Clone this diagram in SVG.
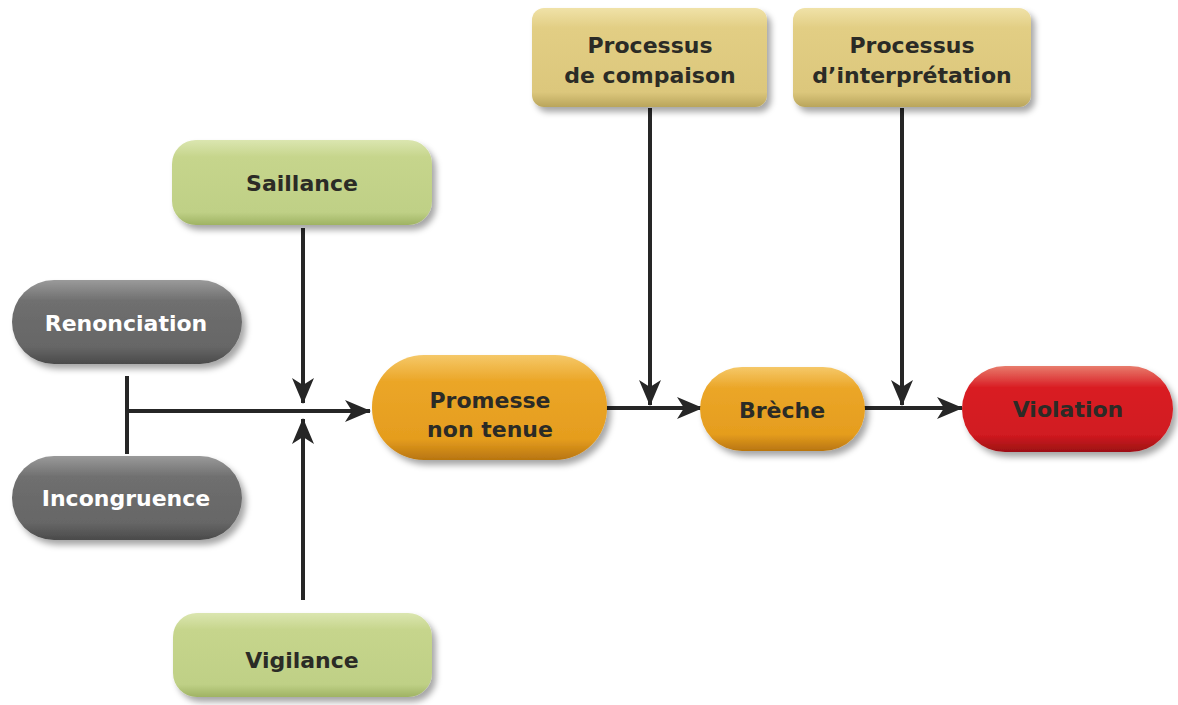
<svg xmlns="http://www.w3.org/2000/svg" width="1178" height="705" viewBox="0 0 1178 705">
<defs>
<style>
.t{font-family:"DejaVu Sans","Verdana",sans-serif;font-weight:bold;font-size:22px;text-anchor:middle;fill:#2b2b26}
.w{fill:#ffffff}
.c{fill:none;stroke:#262626;stroke-width:4}
</style>
<filter id="sh" x="-10%" y="-20%" width="125%" height="150%">
<feDropShadow dx="4" dy="5" stdDeviation="3" flood-color="#000" flood-opacity="0.35"/>
</filter>
<linearGradient id="gGray" x1="0" y1="0" x2="0" y2="1">
<stop offset="0" stop-color="#9a9a9a"/><stop offset="0.25" stop-color="#6f6f6f"/><stop offset="0.8" stop-color="#666"/><stop offset="1" stop-color="#4a4a4a"/>
</linearGradient>
<linearGradient id="gGreen" x1="0" y1="0" x2="0" y2="1">
<stop offset="0" stop-color="#dbe6b0"/><stop offset="0.2" stop-color="#c6d58c"/><stop offset="0.85" stop-color="#bfd086"/><stop offset="1" stop-color="#9fb363"/>
</linearGradient>
<linearGradient id="gOrange" x1="0" y1="0" x2="0" y2="1">
<stop offset="0" stop-color="#f5c868"/><stop offset="0.25" stop-color="#eba628"/><stop offset="0.8" stop-color="#e59d1e"/><stop offset="1" stop-color="#b87510"/>
</linearGradient>
<linearGradient id="gRed" x1="0" y1="0" x2="0" y2="1">
<stop offset="0" stop-color="#e87c6c"/><stop offset="0.25" stop-color="#d91d24"/><stop offset="0.8" stop-color="#d11a20"/><stop offset="1" stop-color="#9c1014"/>
</linearGradient>
<linearGradient id="gTan" x1="0" y1="0" x2="0" y2="1">
<stop offset="0" stop-color="#f0e2a8"/><stop offset="0.2" stop-color="#e2ce84"/><stop offset="0.85" stop-color="#dcc77c"/><stop offset="1" stop-color="#b9a55c"/>
</linearGradient>
<marker id="ah" viewBox="0 0 26 22" refX="25" refY="11" markerWidth="26" markerHeight="22" markerUnits="userSpaceOnUse" orient="auto">
<path d="M0,0 L26,11 L0,22 L7,11 Z" fill="#262626"/>
</marker>
</defs>
<rect width="1178" height="705" fill="#ffffff"/>

<g id="connectors">
<line class="c" x1="127" y1="376" x2="127" y2="454"/>
<line class="c" x1="127" y1="411" x2="370" y2="411" marker-end="url(#ah)"/>
<line class="c" x1="303" y1="228" x2="303" y2="403" marker-end="url(#ah)"/>
<line class="c" x1="303" y1="600" x2="303" y2="419" marker-end="url(#ah)"/>
<line class="c" x1="606" y1="408" x2="702" y2="408" marker-end="url(#ah)"/>
<line class="c" x1="650" y1="108" x2="650" y2="405" marker-end="url(#ah)"/>
<line class="c" x1="864" y1="408" x2="962" y2="408" marker-end="url(#ah)"/>
<line class="c" x1="902" y1="108" x2="902" y2="405" marker-end="url(#ah)"/>
</g>

<g id="saillance">
<rect x="172" y="140" width="260" height="85" rx="24" fill="url(#gGreen)" filter="url(#sh)"/>
<text class="t" x="302" y="191">Saillance</text>
</g>
<g id="vigilance">
<rect x="173" y="613" width="259" height="84" rx="24" fill="url(#gGreen)" filter="url(#sh)"/>
<text class="t" x="302" y="668">Vigilance</text>
</g>
<g id="renonciation">
<rect x="12" y="280" width="230" height="84" rx="42" fill="url(#gGray)" filter="url(#sh)"/>
<text class="t w" x="126" y="331">Renonciation</text>
</g>
<g id="incongruence">
<rect x="12" y="456" width="230" height="84" rx="42" fill="url(#gGray)" filter="url(#sh)"/>
<text class="t w" x="126" y="506">Incongruence</text>
</g>
<g id="promesse">
<rect x="372" y="355" width="235" height="105" rx="52" fill="url(#gOrange)" filter="url(#sh)"/>
<text class="t" x="490" y="408">Promesse</text>
<text class="t" x="490" y="437">non tenue</text>
</g>
<g id="breche">
<rect x="700" y="367" width="165" height="84" rx="42" fill="url(#gOrange)" filter="url(#sh)"/>
<text class="t" x="782" y="418">Brèche</text>
</g>
<g id="violation">
<rect x="962" y="366" width="211" height="86" rx="43" fill="url(#gRed)" filter="url(#sh)"/>
<text class="t" x="1068" y="417">Violation</text>
</g>
<g id="comparaison">
<rect x="532" y="8" width="235" height="99" rx="12" fill="url(#gTan)" filter="url(#sh)"/>
<text class="t" x="650" y="53">Processus</text>
<text class="t" x="650" y="83">de compaison</text>
</g>
<g id="interpretation">
<rect x="793" y="8" width="238" height="99" rx="12" fill="url(#gTan)" filter="url(#sh)"/>
<text class="t" x="912" y="53">Processus</text>
<text class="t" x="912" y="83">d’interprétation</text>
</g>
</svg>
